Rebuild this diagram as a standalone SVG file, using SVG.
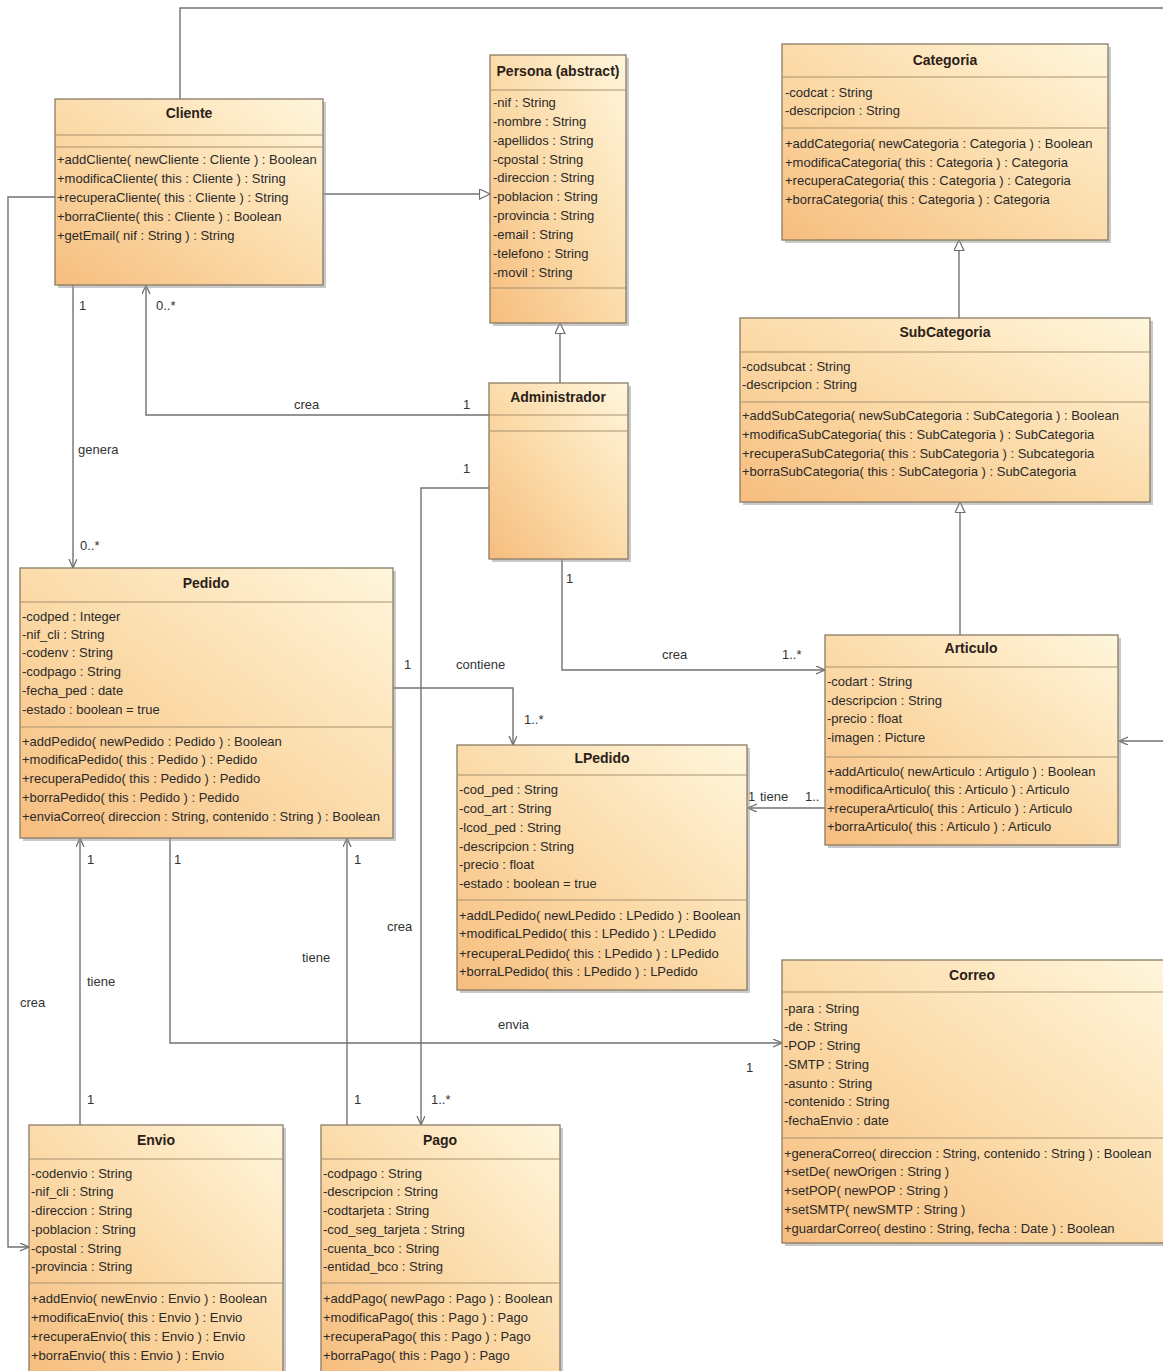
<svg xmlns="http://www.w3.org/2000/svg" width="1163" height="1371" viewBox="0 0 1163 1371">
  <defs>
    <linearGradient id="classFill" x1="0" y1="1" x2="1" y2="0">
      <stop offset="0" stop-color="#f6bd7e"/>
      <stop offset="0.45" stop-color="#fbd9a6"/>
      <stop offset="1" stop-color="#fff6dc"/>
    </linearGradient>
    <marker id="open" markerUnits="userSpaceOnUse" markerWidth="12" markerHeight="12" refX="9" refY="4" orient="auto">
      <path d="M0,0 L9,4 L0,8" fill="none" stroke="#6e6e6e" stroke-width="1.3"/>
    </marker>
    <marker id="gen" markerUnits="userSpaceOnUse" markerWidth="14" markerHeight="14" refX="11" refY="5.5" orient="auto">
      <path d="M0.5,0.5 L11,5.5 L0.5,10.5 z" fill="#ffffff" stroke="#6e6e6e" stroke-width="1.2"/>
    </marker>
  </defs>
  <style>
    .shadow { fill: #9c9c9c; opacity: 0.55; }
    .box { fill: url(#classFill); stroke: #8a7b66; stroke-width: 1.3; }
    .sep { stroke: #a8916f; stroke-width: 1.2; }
    .title { font-family: "Liberation Sans", Arial, sans-serif; font-size: 14px; font-weight: bold; fill: #2b2118; text-anchor: middle; }
    .t { font-family: "Liberation Sans", Arial, sans-serif; font-size: 13px; fill: #2a2a2a; }
    .conn { fill: none; stroke: #727272; stroke-width: 1.4; }
    .lbl { font-family: "Liberation Sans", Arial, sans-serif; font-size: 13px; fill: #333333; }
  </style>

  <rect width="1163" height="1371" fill="#ffffff"/>

  <!-- associations and generalizations -->
  <g id="connectors">
    <path class="conn" d="M180,99 V8 H1165"/>
    <path class="conn" d="M1165,741 H1119" marker-end="url(#open)"/>
    <path class="conn" d="M323,194 H490" marker-end="url(#gen)"/>
    <path class="conn" d="M55,197 H8 V1247 H29" marker-end="url(#open)"/>
    <path class="conn" d="M73,285 V568" marker-end="url(#open)"/>
    <path class="conn" d="M489,415 H146 V285" marker-end="url(#open)"/>
    <path class="conn" d="M560,383 V323" marker-end="url(#gen)"/>
    <path class="conn" d="M489,488 H421 V1125" marker-end="url(#open)"/>
    <path class="conn" d="M562,559 V670 H825" marker-end="url(#open)"/>
    <path class="conn" d="M959,318 V240" marker-end="url(#gen)"/>
    <path class="conn" d="M960,635 V502" marker-end="url(#gen)"/>
    <path class="conn" d="M393,688 H513 V745" marker-end="url(#open)"/>
    <path class="conn" d="M825,808 H748" marker-end="url(#open)"/>
    <path class="conn" d="M80,1125 V838" marker-end="url(#open)"/>
    <path class="conn" d="M170,838 V1043 H782" marker-end="url(#open)"/>
    <path class="conn" d="M347,1125 V838" marker-end="url(#open)"/>

    <text class="lbl" x="79" y="310">1</text>
    <text class="lbl" x="156" y="310">0..*</text>
    <text class="lbl" x="78" y="454">genera</text>
    <text class="lbl" x="80" y="550">0..*</text>
    <text class="lbl" x="294" y="409">crea</text>
    <text class="lbl" x="463" y="409">1</text>
    <text class="lbl" x="463" y="473">1</text>
    <text class="lbl" x="566" y="583">1</text>
    <text class="lbl" x="662" y="659">crea</text>
    <text class="lbl" x="782" y="659">1..*</text>
    <text class="lbl" x="404" y="669">1</text>
    <text class="lbl" x="456" y="669">contiene</text>
    <text class="lbl" x="524" y="724">1..*</text>
    <text class="lbl" x="748" y="801">1</text>
    <text class="lbl" x="760" y="801">tiene</text>
    <text class="lbl" x="805" y="801">1..</text>
    <text class="lbl" x="87" y="864">1</text>
    <text class="lbl" x="174" y="864">1</text>
    <text class="lbl" x="354" y="864">1</text>
    <text class="lbl" x="387" y="931">crea</text>
    <text class="lbl" x="302" y="962">tiene</text>
    <text class="lbl" x="87" y="986">tiene</text>
    <text class="lbl" x="20" y="1007">crea</text>
    <text class="lbl" x="498" y="1029">envia</text>
    <text class="lbl" x="746" y="1072">1</text>
    <text class="lbl" x="87" y="1104">1</text>
    <text class="lbl" x="354" y="1104">1</text>
    <text class="lbl" x="431" y="1104">1..*</text>
  </g>

  <!-- Cliente -->
  <g id="Cliente">
    <rect class="shadow" x="58" y="102" width="268" height="186"/>
    <rect class="box" x="55" y="99" width="268" height="186"/>
    <line class="sep" x1="55" y1="135" x2="323" y2="135"/>
    <line class="sep" x1="55" y1="147" x2="323" y2="147"/>
    <text class="title" x="189" y="118">Cliente</text>
    <text class="t" x="57" y="164">+addCliente( newCliente : Cliente ) : Boolean</text>
    <text class="t" x="57" y="183">+modificaCliente( this : Cliente ) : String</text>
    <text class="t" x="57" y="202">+recuperaCliente( this : Cliente ) : String</text>
    <text class="t" x="57" y="221">+borraCliente( this : Cliente ) : Boolean</text>
    <text class="t" x="57" y="240">+getEmail( nif : String ) : String</text>
  </g>

  <!-- Persona -->
  <g id="Persona">
    <rect class="shadow" x="493" y="58" width="136" height="268"/>
    <rect class="box" x="490" y="55" width="136" height="268"/>
    <line class="sep" x1="490" y1="90" x2="626" y2="90"/>
    <line class="sep" x1="490" y1="288" x2="626" y2="288"/>
    <text class="title" x="558" y="76">Persona (abstract)</text>
    <text class="t" x="493" y="107">-nif : String</text>
    <text class="t" x="493" y="126">-nombre : String</text>
    <text class="t" x="493" y="145">-apellidos : String</text>
    <text class="t" x="493" y="164">-cpostal : String</text>
    <text class="t" x="493" y="182">-direccion : String</text>
    <text class="t" x="493" y="201">-poblacion : String</text>
    <text class="t" x="493" y="220">-provincia : String</text>
    <text class="t" x="493" y="239">-email : String</text>
    <text class="t" x="493" y="258">-telefono : String</text>
    <text class="t" x="493" y="277">-movil : String</text>
  </g>

  <!-- Administrador -->
  <g id="Administrador">
    <rect class="shadow" x="492" y="386" width="139" height="176"/>
    <rect class="box" x="489" y="383" width="139" height="176"/>
    <line class="sep" x1="489" y1="415" x2="628" y2="415"/>
    <line class="sep" x1="489" y1="431" x2="628" y2="431"/>
    <text class="title" x="558" y="402">Administrador</text>
  </g>

  <!-- Categoria -->
  <g id="Categoria">
    <rect class="shadow" x="785" y="47" width="326" height="196"/>
    <rect class="box" x="782" y="44" width="326" height="196"/>
    <line class="sep" x1="782" y1="77" x2="1108" y2="77"/>
    <line class="sep" x1="782" y1="128" x2="1108" y2="128"/>
    <text class="title" x="945" y="65">Categoria</text>
    <text class="t" x="785" y="97">-codcat : String</text>
    <text class="t" x="785" y="115">-descripcion : String</text>
    <text class="t" x="785" y="148">+addCategoria( newCategoria : Categoria ) : Boolean</text>
    <text class="t" x="785" y="167">+modificaCategoria( this : Categoria ) : Categoria</text>
    <text class="t" x="785" y="185">+recuperaCategoria( this : Categoria ) : Categoria</text>
    <text class="t" x="785" y="204">+borraCategoria( this : Categoria ) : Categoria</text>
  </g>

  <!-- SubCategoria -->
  <g id="SubCategoria">
    <rect class="shadow" x="743" y="321" width="410" height="184"/>
    <rect class="box" x="740" y="318" width="410" height="184"/>
    <line class="sep" x1="740" y1="352" x2="1150" y2="352"/>
    <line class="sep" x1="740" y1="402" x2="1150" y2="402"/>
    <text class="title" x="945" y="337">SubCategoria</text>
    <text class="t" x="742" y="371">-codsubcat : String</text>
    <text class="t" x="742" y="389">-descripcion : String</text>
    <text class="t" x="742" y="420">+addSubCategoria( newSubCategoria : SubCategoria ) : Boolean</text>
    <text class="t" x="742" y="439">+modificaSubCategoria( this : SubCategoria ) : SubCategoria</text>
    <text class="t" x="742" y="458">+recuperaSubCategoria( this : SubCategoria ) : Subcategoria</text>
    <text class="t" x="742" y="476">+borraSubCategoria( this : SubCategoria ) : SubCategoria</text>
  </g>

  <!-- Articulo -->
  <g id="Articulo">
    <rect class="shadow" x="828" y="638" width="293" height="210"/>
    <rect class="box" x="825" y="635" width="293" height="210"/>
    <line class="sep" x1="825" y1="667" x2="1118" y2="667"/>
    <line class="sep" x1="825" y1="757" x2="1118" y2="757"/>
    <text class="title" x="971" y="653">Articulo</text>
    <text class="t" x="827" y="686">-codart : String</text>
    <text class="t" x="827" y="705">-descripcion : String</text>
    <text class="t" x="827" y="723">-precio : float</text>
    <text class="t" x="827" y="742">-imagen : Picture</text>
    <text class="t" x="827" y="776">+addArticulo( newArticulo : Artigulo ) : Boolean</text>
    <text class="t" x="827" y="794">+modificaArticulo( this : Articulo ) : Articulo</text>
    <text class="t" x="827" y="813">+recuperaArticulo( this : Articulo ) : Articulo</text>
    <text class="t" x="827" y="831">+borraArticulo( this : Articulo ) : Articulo</text>
  </g>

  <!-- Pedido -->
  <g id="Pedido">
    <rect class="shadow" x="23" y="571" width="373" height="270"/>
    <rect class="box" x="20" y="568" width="373" height="270"/>
    <line class="sep" x1="20" y1="602" x2="393" y2="602"/>
    <line class="sep" x1="20" y1="727" x2="393" y2="727"/>
    <text class="title" x="206" y="588">Pedido</text>
    <text class="t" x="22" y="621">-codped : Integer</text>
    <text class="t" x="22" y="639">-nif_cli : String</text>
    <text class="t" x="22" y="657">-codenv : String</text>
    <text class="t" x="22" y="676">-codpago : String</text>
    <text class="t" x="22" y="695">-fecha_ped : date</text>
    <text class="t" x="22" y="714">-estado : boolean = true</text>
    <text class="t" x="22" y="746">+addPedido( newPedido : Pedido ) : Boolean</text>
    <text class="t" x="22" y="764">+modificaPedido( this : Pedido ) : Pedido</text>
    <text class="t" x="22" y="783">+recuperaPedido( this : Pedido ) : Pedido</text>
    <text class="t" x="22" y="802">+borraPedido( this : Pedido ) : Pedido</text>
    <text class="t" x="22" y="821">+enviaCorreo( direccion : String, contenido : String ) : Boolean</text>
  </g>

  <!-- LPedido -->
  <g id="LPedido">
    <rect class="shadow" x="460" y="748" width="290" height="245"/>
    <rect class="box" x="457" y="745" width="290" height="245"/>
    <line class="sep" x1="457" y1="775" x2="747" y2="775"/>
    <line class="sep" x1="457" y1="900" x2="747" y2="900"/>
    <text class="title" x="602" y="763">LPedido</text>
    <text class="t" x="459" y="794">-cod_ped : String</text>
    <text class="t" x="459" y="813">-cod_art : String</text>
    <text class="t" x="459" y="832">-lcod_ped : String</text>
    <text class="t" x="459" y="851">-descripcion : String</text>
    <text class="t" x="459" y="869">-precio : float</text>
    <text class="t" x="459" y="888">-estado : boolean = true</text>
    <text class="t" x="459" y="920">+addLPedido( newLPedido : LPedido ) : Boolean</text>
    <text class="t" x="459" y="938">+modificaLPedido( this : LPedido ) : LPedido</text>
    <text class="t" x="459" y="958">+recuperaLPedido( this : LPedido ) : LPedido</text>
    <text class="t" x="459" y="976">+borraLPedido( this : LPedido ) : LPedido</text>
  </g>

  <!-- Correo -->
  <g id="Correo">
    <rect class="shadow" x="785" y="963" width="384" height="283"/>
    <rect class="box" x="782" y="960" width="384" height="283"/>
    <line class="sep" x1="782" y1="992" x2="1166" y2="992"/>
    <line class="sep" x1="782" y1="1138" x2="1166" y2="1138"/>
    <text class="title" x="972" y="980">Correo</text>
    <text class="t" x="784" y="1013">-para : String</text>
    <text class="t" x="784" y="1031">-de : String</text>
    <text class="t" x="784" y="1050">-POP : String</text>
    <text class="t" x="784" y="1069">-SMTP : String</text>
    <text class="t" x="784" y="1088">-asunto : String</text>
    <text class="t" x="784" y="1106">-contenido : String</text>
    <text class="t" x="784" y="1125">-fechaEnvio : date</text>
    <text class="t" x="784" y="1158">+generaCorreo( direccion : String, contenido : String ) : Boolean</text>
    <text class="t" x="784" y="1176">+setDe( newOrigen : String )</text>
    <text class="t" x="784" y="1195">+setPOP( newPOP : String )</text>
    <text class="t" x="784" y="1214">+setSMTP( newSMTP : String )</text>
    <text class="t" x="784" y="1233">+guardarCorreo( destino : String, fecha : Date ) : Boolean</text>
  </g>

  <!-- Envio -->
  <g id="Envio">
    <rect class="shadow" x="32" y="1128" width="254" height="250"/>
    <rect class="box" x="29" y="1125" width="254" height="250"/>
    <line class="sep" x1="29" y1="1159" x2="283" y2="1159"/>
    <line class="sep" x1="29" y1="1283" x2="283" y2="1283"/>
    <text class="title" x="156" y="1145">Envio</text>
    <text class="t" x="31" y="1178">-codenvio : String</text>
    <text class="t" x="31" y="1196">-nif_cli : String</text>
    <text class="t" x="31" y="1215">-direccion : String</text>
    <text class="t" x="31" y="1234">-poblacion : String</text>
    <text class="t" x="31" y="1253">-cpostal : String</text>
    <text class="t" x="31" y="1271">-provincia : String</text>
    <text class="t" x="31" y="1303">+addEnvio( newEnvio : Envio ) : Boolean</text>
    <text class="t" x="31" y="1322">+modificaEnvio( this : Envio ) : Envio</text>
    <text class="t" x="31" y="1341">+recuperaEnvio( this : Envio ) : Envio</text>
    <text class="t" x="31" y="1360">+borraEnvio( this : Envio ) : Envio</text>
  </g>

  <!-- Pago -->
  <g id="Pago">
    <rect class="shadow" x="324" y="1128" width="239" height="250"/>
    <rect class="box" x="321" y="1125" width="239" height="250"/>
    <line class="sep" x1="321" y1="1159" x2="560" y2="1159"/>
    <line class="sep" x1="321" y1="1283" x2="560" y2="1283"/>
    <text class="title" x="440" y="1145">Pago</text>
    <text class="t" x="323" y="1178">-codpago : String</text>
    <text class="t" x="323" y="1196">-descripcion : String</text>
    <text class="t" x="323" y="1215">-codtarjeta : String</text>
    <text class="t" x="323" y="1234">-cod_seg_tarjeta : String</text>
    <text class="t" x="323" y="1253">-cuenta_bco : String</text>
    <text class="t" x="323" y="1271">-entidad_bco : String</text>
    <text class="t" x="323" y="1303">+addPago( newPago : Pago ) : Boolean</text>
    <text class="t" x="323" y="1322">+modificaPago( this : Pago ) : Pago</text>
    <text class="t" x="323" y="1341">+recuperaPago( this : Pago ) : Pago</text>
    <text class="t" x="323" y="1360">+borraPago( this : Pago ) : Pago</text>
  </g>
</svg>
